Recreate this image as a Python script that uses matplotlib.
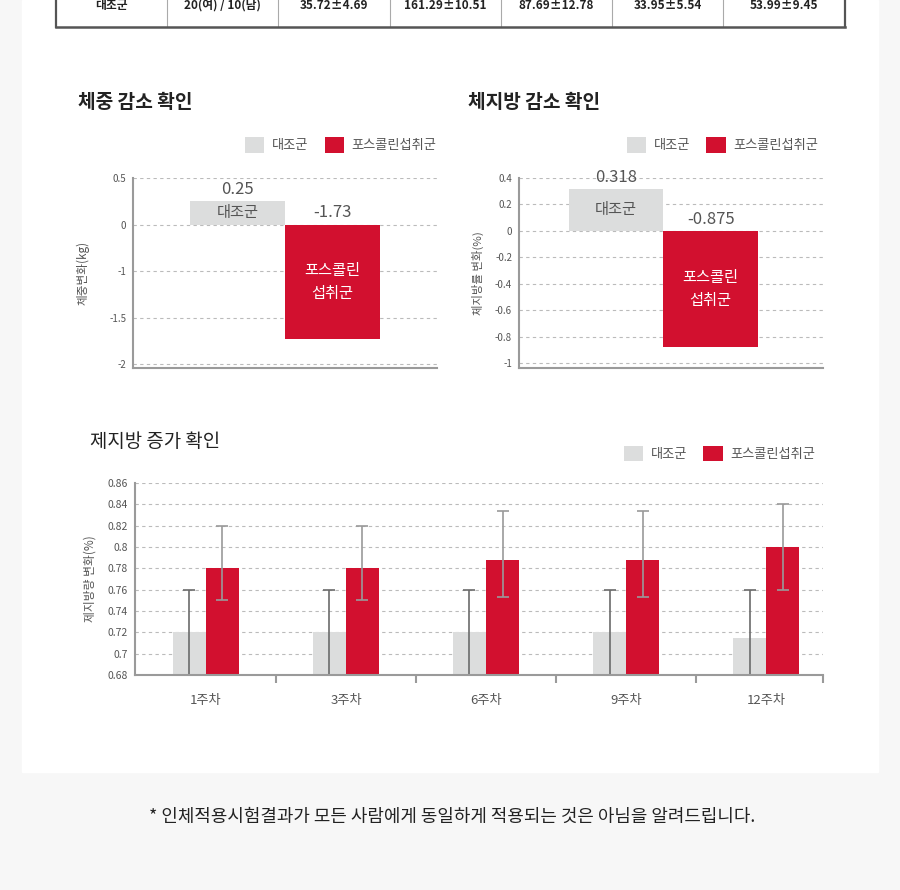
import numpy as np
import matplotlib.pyplot as plt
from matplotlib.patches import Rectangle, Patch
from matplotlib.lines import Line2D

plt.rcParams['font.family'] = ['Noto Sans CJK KR', 'DejaVu Sans']
plt.rcParams['axes.unicode_minus'] = False

# data
table_row = ['대조군', '20(여) / 10(남)', '35.72±4.69', '161.29±10.51',
             '87.69±12.78', '33.95±5.54', '53.99±9.45']
groups = ['대조군', '포스콜린섭취군']
weight_change = [0.25, -1.73]
weight_ticks = [0.5, 0, -1, -1.5, -2]
fat_change = [0.318, -0.875]
fat_ticks = [0.4, 0.2, 0, -0.2, -0.4, -0.6, -0.8, -1]
weeks = ['1주차', '3주차', '6주차', '9주차', '12주차']
lean_ctrl = [0.72, 0.72, 0.72, 0.72, 0.715]
lean_ctrl_lo = [0.04, 0.04, 0.04, 0.04, 0.035]
lean_ctrl_hi = [0.04, 0.04, 0.04, 0.04, 0.045]
lean_fors = [0.78, 0.78, 0.788, 0.788, 0.80]
lean_fors_lo = [0.03, 0.03, 0.035, 0.035, 0.04]
lean_fors_hi = [0.04, 0.04, 0.046, 0.046, 0.04]
lean_ticks = [0.68, 0.7, 0.72, 0.74, 0.76, 0.78, 0.8, 0.82, 0.84, 0.86]

GRAY = '#dcdddd'
RED = '#d2102f'
TXT = '#555555'
SPINE = '#9a9a9a'

W, H = 900, 890
fig = plt.figure(figsize=(9, 8.9), dpi=100, facecolor='#f7f7f7')


def box(l, t, r, b):
    return fig.add_axes([l / W, 1 - b / H, (r - l) / W, (b - t) / H])


def fx(x):
    return x / W


def fy(y):
    return 1 - y / H


# white panel
fig.add_artist(Rectangle((fx(22), fy(772)), (878 - 22) / W, 772 / H,
                         transform=fig.transFigure, color='white', zorder=0))

# table fragment at top
cols = [56, 167, 278, 390, 501, 612, 723, 845]
for x in cols[1:-1]:
    fig.add_artist(Line2D([fx(x), fx(x)], [fy(0), fy(26)], color='#aaaaaa', lw=0.8))
for x in (cols[0], cols[-1]):
    fig.add_artist(Line2D([fx(x), fx(x)], [fy(0), fy(27)], color='#555555', lw=1.6))
fig.add_artist(Line2D([fx(56), fx(845)], [fy(27), fy(27)], color='#555555', lw=1.8))
for i, t in enumerate(table_row):
    fig.text(fx((cols[i] + cols[i + 1]) / 2), fy(5.5), t, ha='center', va='center',
             fontsize=8.5, fontweight='bold', color='#222222')


def style(ax, tick_size):
    for s in ('top', 'right'):
        ax.spines[s].set_visible(False)
    for s in ('left', 'bottom'):
        ax.spines[s].set_color(SPINE)
        ax.spines[s].set_linewidth(1.5)
    ax.tick_params(axis='y', length=0, pad=5, labelsize=tick_size, labelcolor=TXT)
    ax.grid(axis='y', color='#bbbbbb', linestyle=(0, (3, 3)), lw=0.8)
    ax.set_axisbelow(True)


def legend(ax, y, x=1.0):
    handles = [Patch(facecolor=GRAY, label=groups[0]), Patch(facecolor=RED, label=groups[1])]
    ax.legend(handles=handles, loc='lower right', bbox_to_anchor=(x, y), ncol=2,
              frameon=False, borderpad=0, fontsize=9.5, labelcolor=TXT,
              handlelength=1.45, handleheight=1.45, handletextpad=0.6,
              columnspacing=1.2)


def bar_labels(ax, vals, fmt, mid):
    for i, v in enumerate(vals):
        ax.annotate(fmt(v), (i, max(v, 0)), xytext=(0, 8.5), textcoords='offset points',
                    ha='center', va='center', fontsize=12, color=TXT)
    ax.text(0, mid(vals[0]), '대조군', ha='center', va='center', fontsize=11, color=TXT)
    ax.text(1, mid(vals[1]), '포스콜린\n섭취군', ha='center', va='center', fontsize=11,
            color='white', linespacing=1.45)


# chart 1: weight (tick labels are unevenly spaced, so map them piecewise)
lab_pts = [-10, -2, -1.5, -1, 0, 0.5, 10]
pos_pts = [-9.5, -1.5, -1, -0.5, 0, 0.5, 10]


def fwd(v):
    return np.interp(v, lab_pts, pos_pts)


def inv(v):
    return np.interp(v, pos_pts, lab_pts)


ax1 = box(133, 178, 437, 368)
ax1.set_yscale('function', functions=(fwd, inv))
ax1.bar([0, 1], weight_change, width=1.0, color=[GRAY, RED])
ax1.set_xlim(-1.1, 2.1)
ax1.set_ylim(-2.043, 0.5)
ax1.set_yticks(weight_ticks)
ax1.set_yticklabels([f'{t:g}' for t in weight_ticks])
ax1.set_xticks([])
style(ax1, 7)
ax1.set_ylabel('체중변화(kg)', fontsize=8.4, color=TXT, labelpad=14)
bar_labels(ax1, weight_change, lambda v: f'{v:g}', lambda v: inv(fwd(v) / 2))
legend(ax1, 1.099, 1.02)
fig.text(fx(78), fy(103), '체중 감소 확인', fontsize=13.8, fontweight='bold',
         color='#222222', va='center')

# chart 2: body fat
ax2 = box(519, 178, 823, 368)
ax2.bar([0, 1], fat_change, width=1.0, color=[GRAY, RED])
ax2.set_xlim(-1.03, 2.19)
ax2.set_ylim(-1.037, 0.4)
ax2.set_yticks(fat_ticks)
ax2.set_yticklabels([f'{t:g}' for t in fat_ticks])
ax2.set_xticks([])
style(ax2, 7)
ax2.set_ylabel('체지방률 변화(%)', fontsize=8.2, color=TXT, labelpad=8)
bar_labels(ax2, fat_change, lambda v: f'{v:g}', lambda v: v / 2)
legend(ax2, 1.099, 1 + 2 / 304)
fig.text(fx(468), fy(103), '체지방 감소 확인', fontsize=13.8, fontweight='bold',
         color='#222222', va='center')

# chart 3: lean mass
x = np.arange(len(weeks))
bw = 33 / 140
ax3 = box(135, 483, 823, 675)
ax3.bar(x - bw / 2, lean_ctrl, width=bw, color=GRAY)
ax3.bar(x + bw / 2, lean_fors, width=bw, color=RED)
ax3.errorbar(x - bw / 2, lean_ctrl, yerr=[lean_ctrl_lo, lean_ctrl_hi], fmt='none',
             ecolor='#6b6b6b', elinewidth=1.2, capsize=4, capthick=1.2)
ax3.errorbar(x + bw / 2, lean_fors, yerr=[lean_fors_lo, lean_fors_hi], fmt='none',
             ecolor='#9a9a9a', elinewidth=1.2, capsize=4.5, capthick=1.2)
ax3.set_xlim(-0.507, 4.407)
ax3.set_ylim(0.68, 0.86)
ax3.set_yticks(lean_ticks)
ax3.set_yticklabels([f'{t:g}' for t in lean_ticks])
style(ax3, 7.5)
ax3.set_xticks(x)
ax3.set_xticklabels(weeks)
ax3.set_xticks([0.5, 1.5, 2.5, 3.5, 4.407], minor=True)
ax3.tick_params(axis='x', which='major', length=0, pad=14, labelsize=9.5, labelcolor=TXT)
ax3.tick_params(axis='x', which='minor', length=6, width=1.5, color=SPINE)
ax3.set_ylabel('제지방량 변화(%)', fontsize=8.5, color=TXT, labelpad=8)
legend(ax3, 1.079, 1 - 1 / 688)
fig.text(fx(90), fy(441), '제지방 증가 확인', fontsize=13.6, color='#222222', va='center')

# footnote
fig.text(fx(452), fy(817), '* 인체적용시험결과가 모든 사람에게 동일하게 적용되는 것은 아님을 알려드립니다.',
         ha='center', va='center', fontsize=12.9, color='#222222')

fig.savefig('out.png', dpi=100, facecolor=fig.get_facecolor())
